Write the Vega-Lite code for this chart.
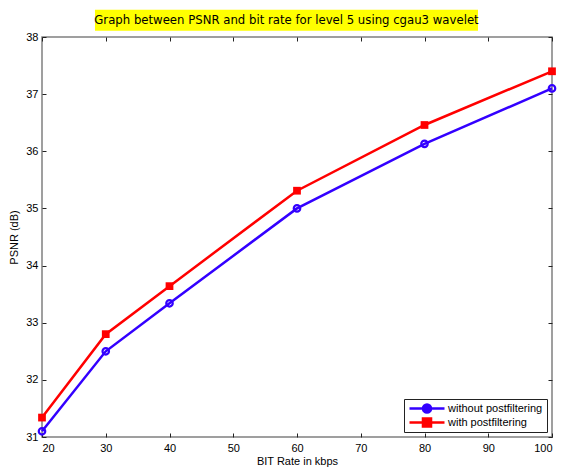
{
  "$schema": "https://vega.github.io/schema/vega-lite/v6.json",
  "width": 510,
  "height": 400,
  "autosize": {"type": "none"},
  "padding": {"left": 42, "top": 37, "right": 10, "bottom": 31},
  "background": "#ffffff",
  "config": {
    "font": "Liberation Sans",
    "view": {"stroke": "#808080", "strokeWidth": 1.5},
    "axis": {
      "grid": false,
      "domain": false,
      "tickColor": "#222222",
      "tickSize": -4,
      "tickWidth": 1,
      "labelColor": "#000000",
      "labelFontSize": 11,
      "labelFont": "Liberation Sans",
      "titleFont": "Liberation Sans",
      "titleFontSize": 11,
      "titleFontWeight": "normal",
      "titleColor": "#000000"
    }
  },
  "datasets": {
    "psnr": [
      {"rate": 20, "psnr": 31.10, "series": "without postfiltering"},
      {"rate": 30, "psnr": 32.50, "series": "without postfiltering"},
      {"rate": 40, "psnr": 33.34, "series": "without postfiltering"},
      {"rate": 60, "psnr": 35.00, "series": "without postfiltering"},
      {"rate": 80, "psnr": 36.13, "series": "without postfiltering"},
      {"rate": 100, "psnr": 37.10, "series": "without postfiltering"},
      {"rate": 20, "psnr": 31.34, "series": "with postfiltering"},
      {"rate": 30, "psnr": 32.80, "series": "with postfiltering"},
      {"rate": 40, "psnr": 33.64, "series": "with postfiltering"},
      {"rate": 60, "psnr": 35.31, "series": "with postfiltering"},
      {"rate": 80, "psnr": 36.46, "series": "with postfiltering"},
      {"rate": 100, "psnr": 37.40, "series": "with postfiltering"}
    ],
    "titles": [
      {"label": "Graph between PSNR and bit rate for level 5 using cgau3 wavelet"}
    ]
  },
  "resolve": {"axis": {"x": "independent", "y": "independent"}},
  "layer": [
    {
      "data": {"name": "psnr"},
      "mark": {"type": "line", "strokeWidth": 2.5},
      "encoding": {
        "x": {
          "field": "rate", "type": "quantitative",
          "scale": {"domain": [20, 100], "nice": false, "zero": false},
          "axis": {"orient": "bottom", "values": [20, 30, 40, 50, 60, 70, 80, 90, 100], "labelPadding": 9, "title": "BIT Rate in kbps", "titlePadding": 2}
        },
        "y": {
          "field": "psnr", "type": "quantitative",
          "scale": {"domain": [31, 38], "nice": false, "zero": false},
          "axis": {"orient": "left", "values": [31, 32, 33, 34, 35, 36, 37, 38], "labelPadding": 8, "title": "PSNR (dB)", "titlePadding": 6}
        },
        "color": {
          "field": "series", "type": "nominal",
          "scale": {"domain": ["without postfiltering", "with postfiltering"], "range": ["#3300ff", "#ff0000"]},
          "legend": {
            "title": null,
            "orient": "bottom-right",
            "offset": 5,
            "fillColor": "#ffffff",
            "strokeColor": "#222222",
            "padding": 4,
            "rowPadding": 2,
            "clipHeight": 11,
            "labelFontSize": 11,
            "labelColor": "#000000",
            "labelOffset": 2,
            "symbolSize": 1225,
            "symbolStrokeWidth": 2.5,
            "encode": {
              "symbols": {
                "update": {
                  "shape": {"signal": "datum.value === 'with postfiltering' ? 'M-1,0H1M-0.23,-0.23H0.23V0.23H-0.23Z' : 'M-1,0H1M-0.23,0A0.23,0.23,0,1,0,0.23,0A0.23,0.23,0,1,0,-0.23,0Z'"},
                  "fill": {"signal": "datum.value === 'with postfiltering' ? '#ff0000' : '#3300ff'"},
                  "stroke": {"signal": "datum.value === 'with postfiltering' ? '#ff0000' : '#3300ff'"},
                  "strokeWidth": {"value": 2.5},
                  "opacity": {"value": 1}
                }
              }
            }
          }
        }
      }
    },
    {
      "data": {"name": "psnr"},
      "transform": [{"filter": "datum.series === 'without postfiltering'"}],
      "mark": {"type": "point", "shape": "circle", "filled": false, "color": "#3300ff", "strokeWidth": 2.2, "size": 42, "opacity": 1},
      "encoding": {
        "x": {"field": "rate", "type": "quantitative", "axis": null},
        "y": {"field": "psnr", "type": "quantitative", "axis": null}
      }
    },
    {
      "data": {"name": "psnr"},
      "transform": [{"filter": "datum.series === 'with postfiltering'"}],
      "mark": {"type": "point", "shape": "square", "filled": true, "color": "#ff0000", "size": 60, "opacity": 1},
      "encoding": {
        "x": {"field": "rate", "type": "quantitative", "axis": null},
        "y": {"field": "psnr", "type": "quantitative", "axis": null}
      }
    },
    {
      "data": {"name": "psnr"},
      "mark": {"type": "point", "opacity": 0},
      "encoding": {
        "x": {"field": "rate", "type": "quantitative", "axis": {"orient": "top", "values": [20, 30, 40, 50, 60, 70, 80, 90, 100], "labels": false, "title": null}},
        "y": {"field": "psnr", "type": "quantitative", "axis": {"orient": "right", "values": [31, 32, 33, 34, 35, 36, 37, 38], "labels": false, "title": null}}
      }
    },
    {
      "data": {"name": "titles"},
      "mark": {"type": "rect", "color": "#ffff00", "opacity": 1},
      "encoding": {
        "x": {"datum": 28.31, "type": "quantitative", "axis": null},
        "x2": {"datum": 88.39},
        "y": {"datum": 38.476, "type": "quantitative", "axis": null},
        "y2": {"datum": 38.109}
      }
    },
    {
      "data": {"name": "titles"},
      "mark": {"type": "text", "font": "DejaVu Sans Condensed", "fontSize": 13, "color": "#000000", "align": "center", "baseline": "middle"},
      "encoding": {
        "x": {"datum": 58.35, "type": "quantitative", "axis": null},
        "y": {"datum": 38.29, "type": "quantitative", "axis": null},
        "text": {"field": "label", "type": "nominal"}
      }
    }
  ]
}
